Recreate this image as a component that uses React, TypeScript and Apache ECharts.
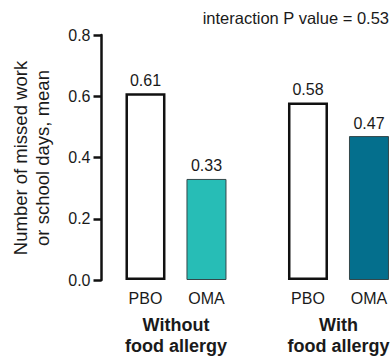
import React, { useEffect, useRef } from "react";
import * as echarts from "echarts";

// Mean number of missed work or school days, by food-allergy subgroup
const groups = ["Without\nfood allergy", "With\nfood allergy"];
const treatments = ["PBO", "OMA"];
const meanDays = [
  [0.61, 0.33],
  [0.58, 0.47],
];
const omaColors = ["#27BDB6", "#046F8D"];
const yTicks = [0, 0.2, 0.4, 0.6, 0.8];
const interactionP = "0.53";

const FONT = '"Liberation Sans", Arial, Helvetica, sans-serif';
const INK = "#1a1a1a";
// spacing between group starts, in bar-slot units
const GROUP_STEP = 2.664;

export default function App() {
  const ref = useRef<HTMLDivElement>(null);

  useEffect(() => {
    if (!ref.current) return;
    const chart = echarts.init(ref.current, null, { renderer: "svg" });

    const barData: any[] = [];
    groups.forEach((_, g) => {
      treatments.forEach((t, i) => {
        const isPlacebo = t === "PBO";
        barData.push({
          value: [g * GROUP_STEP + i, meanDays[g][i]],
          itemStyle: isPlacebo
            ? { color: "#ffffff", borderColor: "#111111", borderWidth: 2.5 }
            : { color: omaColors[g], borderColor: "#34474a", borderWidth: 1 },
        });
      });
    });

    chart.setOption({
      animation: false,
      textStyle: { fontFamily: FONT },
      grid: { left: 101.5, right: 0, top: 35, bottom: 76, containLabel: false },
      xAxis: {
        type: "value",
        min: -0.721,
        max: 4.025,
        show: false,
      },
      yAxis: {
        type: "value",
        min: yTicks[0],
        max: yTicks[yTicks.length - 1],
        interval: 0.2,
        splitLine: { show: false },
        axisLine: { show: true, onZero: false, lineStyle: { color: "#111111", width: 2.5 } },
        axisTick: { show: true, length: 8, lineStyle: { color: "#111111", width: 2.5 } },
        axisLabel: {
          margin: 11,
          fontSize: 16,
          color: INK,
          fontFamily: FONT,
          formatter: (v: number) => v.toFixed(1),
        },
      },
      series: [
        {
          type: "bar",
          barWidth: 40,
          data: barData,
          label: {
            show: true,
            position: "top",
            distance: 5,
            fontSize: 16,
            color: INK,
            fontFamily: FONT,
            formatter: (p: any) => p.value[1].toFixed(2),
          },
        },
      ],
    });

    const graphic: any[] = [];
    const base = chart.convertToPixel({ gridIndex: 0 }, [0, 0]) as number[];
    groups.forEach((gName, g) => {
      treatments.forEach((t, i) => {
        const [x] = chart.convertToPixel({ gridIndex: 0 }, [g * GROUP_STEP + i, 0]) as number[];
        graphic.push({
          type: "text",
          x,
          y: base[1] + 18,
          style: {
            text: t,
            font: `16px ${FONT}`,
            fill: INK,
            textAlign: "center",
            textVerticalAlign: "middle",
          },
        });
      });
      const [cx] = chart.convertToPixel({ gridIndex: 0 }, [g * GROUP_STEP + 0.5, 0]) as number[];
      graphic.push({
        type: "text",
        x: cx,
        y: base[1] + 55.5,
        style: {
          text: gName,
          font: `bold 18px ${FONT}`,
          lineHeight: 21.5,
          fill: INK,
          textAlign: "center",
          textVerticalAlign: "middle",
        },
      });
    });

    // rotated y-axis title
    graphic.push({
      type: "text",
      x: 31,
      y: 158,
      rotation: Math.PI / 2,
      style: {
        text: "Number of missed work\nor school days, mean",
        font: `18.5px ${FONT}`,
        lineHeight: 22,
        fill: INK,
        textAlign: "center",
        textVerticalAlign: "middle",
      },
    });

    graphic.push({
      type: "text",
      x: 389,
      y: 18,
      style: {
        text: `interaction P value = ${interactionP}`,
        font: `16.5px ${FONT}`,
        fill: INK,
        textAlign: "right",
        textVerticalAlign: "middle",
      },
    });

    chart.setOption({ graphic });

    return () => chart.dispose();
  }, []);

  return (
    <div
      ref={ref}
      style={{ position: "fixed", left: 0, top: 0, width: 391, height: 356, background: "#ffffff" }}
    />
  );
}
